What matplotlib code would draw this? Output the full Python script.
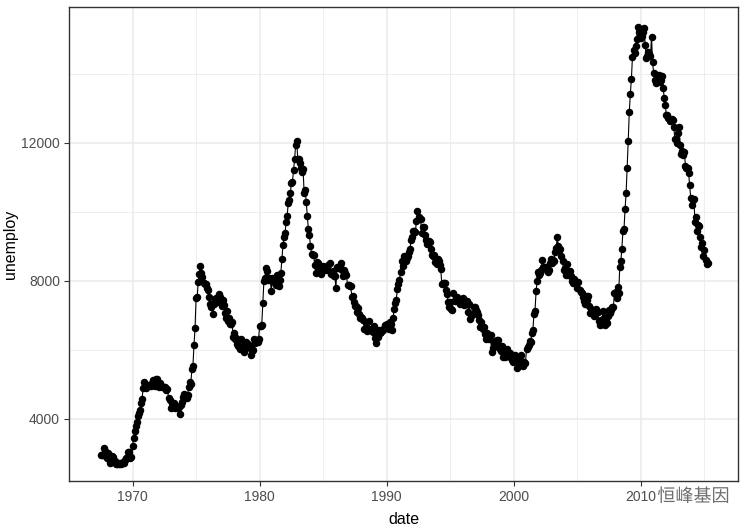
import numpy as np
import matplotlib
matplotlib.use("Agg")
import matplotlib.pyplot as plt
import matplotlib.patheffects as pe

# monthly unemployment (thousands), Jul 1967 - Apr 2015
start_year = 1967
start_month = 7
unemploy = [
    2944, 2945, 2958, 3143, 3066, 3018,
    2878, 3001, 2877, 2709, 2740, 2938, 2883, 2768, 2686, 2689, 2715, 2685,
    2718, 2692, 2712, 2758, 2713, 2816, 2868, 2856, 3040, 3049, 2856, 2884,
    3201, 3453, 3635, 3797, 3919, 4071, 4175, 4256, 4456, 4591, 4898, 5076,
    4986, 4903, 4987, 4959, 4996, 4949, 5035, 5134, 5042, 4954, 5161, 5154,
    5019, 4928, 5038, 4959, 4922, 4923, 4913, 4939, 4849, 4875, 4602, 4543,
    4326, 4452, 4394, 4459, 4329, 4363, 4305, 4305, 4350, 4144, 4396, 4489,
    4644, 4731, 4634, 4618, 4705, 4927, 5063, 5022, 5437, 5523, 6140, 6636,
    7501, 7520, 7978, 8210, 8433, 8220, 8127, 7928, 7923, 7897, 7794, 7744,
    7534, 7326, 7230, 7330, 7053, 7322, 7490, 7518, 7380, 7430, 7620, 7545,
    7280, 7443, 7307, 7059, 6911, 7134, 6829, 6925, 6751, 6763, 6815, 6386,
    6489, 6318, 6337, 6180, 6127, 6028, 6309, 6080, 6125, 5947, 6077, 6228,
    6109, 6173, 6109, 6069, 5840, 5959, 5996, 6320, 6190, 6296, 6238, 6325,
    6683, 6702, 6729, 7358, 7984, 8098, 8363, 8281, 8021, 8088, 8023, 7718,
    8071, 8051, 7982, 7869, 8174, 8098, 7863, 8036, 8230, 8646, 9029, 9267,
    9397, 9705, 9895, 10244, 10335, 10538, 10849, 10881, 11217, 11529, 11938, 12051,
    11534, 11545, 11408, 11268, 11154, 11246, 10548, 10623, 10282, 9887, 9499, 9331,
    9008, 8791, 8746, 8762, 8456, 8226, 8537, 8519, 8367, 8381, 8198, 8358,
    8423, 8321, 8339, 8395, 8302, 8460, 8513, 8196, 8248, 8298, 8128, 8138,
    7795, 8402, 8383, 8364, 8439, 8508, 8319, 8135, 8310, 8243, 8159, 7883,
    7892, 7865, 7862, 7542, 7574, 7398, 7268, 7261, 7102, 7227, 7035, 6936,
    6953, 6929, 6876, 6601, 6779, 6546, 6605, 6843, 6604, 6568, 6537, 6518,
    6682, 6359, 6205, 6468, 6375, 6577, 6495, 6511, 6590, 6630, 6725, 6667,
    6752, 6651, 6598, 6797, 6742, 6590, 6922, 7188, 7368, 7459, 7764, 7901,
    8015, 8265, 8586, 8439, 8736, 8692, 8586, 8666, 8722, 8842, 8931, 9198,
    9283, 9454, 9460, 9415, 9744, 10040, 9850, 9787, 9781, 9398, 9565, 9557,
    9325, 9183, 9056, 9110, 9149, 9121, 8930, 8763, 8714, 8750, 8542, 8477,
    8630, 8583, 8470, 8331, 7915, 7927, 7946, 7933, 7734, 7632, 7375, 7230,
    7375, 7187, 7153, 7645, 7430, 7427, 7527, 7484, 7478, 7328, 7426, 7423,
    7491, 7313, 7318, 7415, 7423, 7095, 7337, 6882, 6979, 7031, 7236, 7253,
    7158, 7102, 7000, 6873, 6655, 6799, 6655, 6608, 6656, 6454, 6308, 6476,
    6368, 6306, 6422, 5941, 6047, 6212, 6259, 6179, 6300, 6280, 6100, 6032,
    5976, 6111, 5783, 6004, 5796, 5951, 6025, 5838, 5915, 5778, 5716, 5653,
    5708, 5858, 5733, 5481, 5758, 5651, 5747, 5853, 5625, 5534, 5639, 5634,
    6023, 6089, 6141, 6271, 6226, 6484, 6583, 7042, 7142, 7694, 8003, 8258,
    8182, 8215, 8304, 8599, 8399, 8393, 8390, 8304, 8251, 8307, 8520, 8640,
    8520, 8618, 8588, 8842, 8957, 9266, 9011, 8896, 8921, 8732, 8576, 8317,
    8370, 8167, 8491, 8170, 8212, 8286, 8136, 7990, 7927, 8061, 7932, 7934,
    7784, 7980, 7737, 7672, 7651, 7524, 7406, 7345, 7553, 7453, 7566, 7279,
    7064, 7184, 7072, 7120, 6980, 7001, 7175, 7091, 6847, 6727, 6872, 6762,
    7116, 6927, 6731, 6850, 6766, 6979, 7149, 7067, 7170, 7237, 7240, 7645,
    7685, 7497, 7822, 7637, 8395, 8575, 8937, 9438, 9494, 10074, 10538, 11286,
    12058, 12898, 13426, 13853, 14499, 14707, 14601, 14814, 15009, 15352, 15219, 15098,
    15046, 15113, 15202, 15325, 14849, 14474, 14512, 14648, 14579, 14516, 15081, 14348,
    14013, 13820, 13737, 13957, 13855, 13962, 13763, 13818, 13948, 13594, 13302, 13093,
    12797, 12813, 12713, 12646, 12660, 12692, 12656, 12471, 12115, 12124, 12005, 12298,
    12471, 11950, 11689, 11760, 11654, 11751, 11335, 11279, 11270, 11136, 10787, 10404,
    10202, 10349, 10380, 9702, 9859, 9460, 9608, 9599, 9262, 8990, 9090, 8717,
    8903, 8610, 8504, 8526,
]
x_ticks = [1970, 1980, 1990, 2000, 2010]
y_ticks = [4000, 8000, 12000]

months = np.arange(len(unemploy))
date = start_year + (start_month - 1 + months) / 12.0
y = np.array(unemploy)

plt.rcParams['font.family'] = ['Liberation Sans', 'DejaVu Sans']

fig = plt.figure(figsize=(7.53, 5.28), dpi=100)
ax = fig.add_axes([69 / 753, 1 - 481 / 528, (738 - 69) / 753, (481 - 7) / 528])

ax.plot(date, y, color='black', linewidth=0.8, zorder=3)
ax.plot(date, y, 'o', color='black', markersize=4.4, zorder=4)

xr = date.max() - date.min()
ax.set_xlim(date.min() - 0.05 * xr, date.max() + 0.05 * xr)
ax.set_ylim(2200, 15940)

ax.set_xticks(x_ticks)
ax.set_yticks(y_ticks)
ax.set_xticks([1965, 1975, 1985, 1995, 2005, 2015], minor=True)
ax.set_yticks([6000, 10000, 14000], minor=True)
ax.grid(True, which='major', color='#ebebeb', linewidth=1.1)
ax.grid(True, which='minor', color='#ebebeb', linewidth=0.6)
ax.set_axisbelow(True)
ax.tick_params(which='major', length=3.5, color='#333333', labelsize=10,
               labelcolor='#4d4d4d', width=0.8, pad=3)
ax.tick_params(which='minor', length=0)
for s in ax.spines.values():
    s.set_color('#333333')
    s.set_linewidth(1.0)

ax.set_xlabel('date', fontsize=11.5, labelpad=6)
ax.set_ylabel('unemploy', fontsize=11.5, labelpad=2)

fig.text(0.873, 0.05, '恒峰基因', fontsize=13, color='#6e6e6e',
         family=['Noto Sans CJK SC', 'DejaVu Sans'],
         path_effects=[pe.withStroke(linewidth=2, foreground='white')])

fig.savefig('out.png', dpi=100)
